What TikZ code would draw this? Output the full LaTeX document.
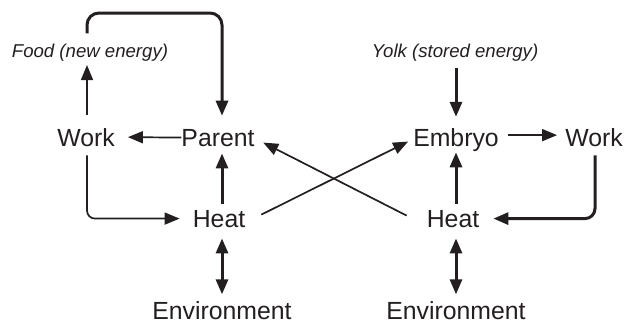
\documentclass[tikz,border=0pt]{standalone}
\usepackage{fontspec}
\setmainfont{Liberation Sans}
\usetikzlibrary{arrows.meta,calc}
\definecolor{ink}{RGB}{35,31,32}
\begin{document}
\begin{tikzpicture}[x=1pt,y=-1pt,
  lbl/.style={inner sep=0pt,anchor=base,text=ink,font=\fontsize{24.8}{28}\selectfont},
  src/.style={inner sep=0pt,anchor=base,text=ink,font=\fontsize{18.6}{22}\selectfont\itshape},
  conn/.style={draw=ink,line width=1.7pt,-{Triangle[length=15pt,width=12pt]}},
  heavy/.style={conn,line width=3pt},
  both/.style={heavy,{Triangle[length=15pt,width=12pt]}-{Triangle[length=15pt,width=12pt]}}]
\useasboundingbox (0,0) rectangle (624,324);

% labels
\node[lbl] (workL)  at (86,146)  {Work};
\node[lbl] (parent) at (218,146) {Parent};
\node[lbl] (embryo) at (456,146) {Embryo};
\node[lbl] (workR)  at (594,146) {Work};
\node[lbl] (heatL)  at (219,227) {Heat};
\node[lbl] (heatR)  at (453,227) {Heat};
\node[lbl] (envL)   at (222,319.5) {Environment};
\node[lbl] (envR)   at (456,319.5) {Environment};
\node[src] (food)   at (90,57)   {Food (new energy)};
\node[src] (yolk)   at (455,57)  {Yolk (stored energy)};
\coordinate (loopTop) at (0,13);

% parent side
\draw[conn] (parent.west) -- ($(workL.east)+(13,0)$);
\draw[conn] ($(workL.north)+(1,-13)$) -- ($(workL.north |- food.south)+(1,4)$);
\draw[heavy,rounded corners=12pt]
  ($(food.north -| workL.north)+(1,-10)$) |- ($(parent.north |- loopTop)+(4,0)$)
  -- ($(parent.north)+(4,-13)$);
\draw[heavy] ($(heatL.north)+(3,-6)$) -- ($(heatL.north |- parent.south)+(3,7)$);
\draw[both] ($(envL.north |- heatL.south)+(0,11)$) -- ($(envL.north)+(0,-7)$);
\draw[conn,rounded corners=8pt] ($(workL.south)+(1,9)$) |- ($(heatL.west)+(-13,0)$);

% crossing links
\draw[conn] ($(heatL.east)+(16,-4)$) -- ($(embryo.west)+(-5,2)$);
\draw[conn] ($(heatR.west)+(-20,-3)$) -- ($(parent.east)+(8.5,5)$);

% embryo side
\draw[conn] ($(embryo.east |- workR.west)+(9,-2)$) -- ($(workR.west)+(-8,-2)$);
\draw[heavy] ($(yolk.south -| embryo.north)+(0,7)$) -- ($(embryo.north)+(0,-11)$);
\draw[heavy] ($(heatR.north -| embryo.south)+(0,-6)$) -- ($(embryo.south)+(0,1)$);
\draw[both] ($(envR.north |- heatR.south)+(0,11)$) -- ($(envR.north)+(0,-7)$);
\draw[heavy,rounded corners=10pt] ($(workR.south)+(1,9)$) |- ($(heatR.east)+(14,0)$);
\end{tikzpicture}
\end{document}
